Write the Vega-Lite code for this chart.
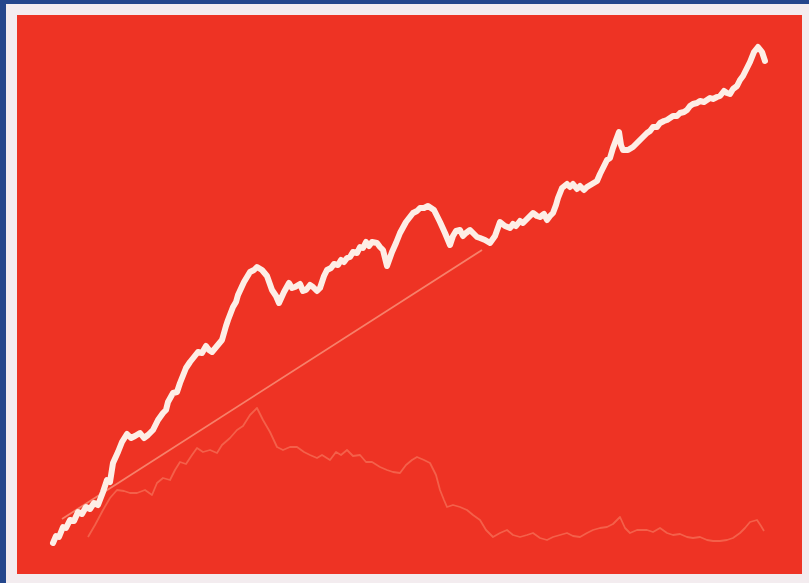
{
  "$schema": "https://vega.github.io/schema/vega-lite/v6.json",
  "width": 796,
  "height": 570,
  "autosize": {"type": "none"},
  "padding": {"left": 11.5, "top": 9.5, "right": 1.5, "bottom": 3.5},
  "background": "#24468c",
  "config": {
    "view": {"fill": "#ee3324", "stroke": "#f3ecef", "strokeWidth": 11}
  },
  "datasets": {
    "main": [
      {"x":53,"y":543},{"x":56,"y":536},{"x":59,"y":537},{"x":63,"y":527},{"x":66,"y":528},{"x":70,"y":520},{"x":74,"y":521},{"x":78,"y":512},{"x":82,"y":514},{"x":86,"y":507},{"x":90,"y":509},{"x":94,"y":503},{"x":98,"y":505},{"x":103,"y":492},{"x":107,"y":480},{"x":110,"y":482},{"x":113,"y":463},{"x":118,"y":452},{"x":122,"y":442},{"x":127,"y":434},{"x":131,"y":438},{"x":135,"y":436},{"x":140,"y":433},{"x":144,"y":438},{"x":148,"y":435},{"x":153,"y":430},{"x":158,"y":420},{"x":163,"y":413},{"x":166,"y":410},{"x":168,"y":402},{"x":173,"y":393},{"x":177,"y":392},{"x":180,"y":383},{"x":186,"y":368},{"x":190,"y":362},{"x":194,"y":357},{"x":198,"y":352},{"x":202,"y":353},{"x":206,"y":346},{"x":209,"y":350},{"x":212,"y":352},{"x":217,"y":346},{"x":222,"y":340},{"x":226,"y":326},{"x":228,"y":320},{"x":233,"y":307},{"x":236,"y":302},{"x":238,"y":295},{"x":244,"y":282},{"x":250,"y":272},{"x":254,"y":270},{"x":257,"y":267},{"x":262,"y":270},{"x":267,"y":276},{"x":272,"y":290},{"x":276,"y":296},{"x":279,"y":303},{"x":284,"y":292},{"x":289,"y":283},{"x":292,"y":288},{"x":295,"y":287},{"x":300,"y":284},{"x":303,"y":291},{"x":306,"y":290},{"x":310,"y":285},{"x":313,"y":287},{"x":317,"y":291},{"x":320,"y":288},{"x":324,"y":276},{"x":327,"y":270},{"x":331,"y":268},{"x":334,"y":264},{"x":338,"y":265},{"x":341,"y":260},{"x":344,"y":262},{"x":347,"y":258},{"x":350,"y":257},{"x":353,"y":252},{"x":357,"y":253},{"x":360,"y":247},{"x":363,"y":248},{"x":366,"y":242},{"x":369,"y":246},{"x":372,"y":242},{"x":377,"y":243},{"x":380,"y":247},{"x":383,"y":250},{"x":387,"y":266},{"x":392,"y":252},{"x":396,"y":243},{"x":400,"y":233},{"x":406,"y":222},{"x":413,"y":213},{"x":417,"y":211},{"x":420,"y":208},{"x":424,"y":208},{"x":428,"y":206},{"x":434,"y":210},{"x":437,"y":216},{"x":440,"y":222},{"x":445,"y":233},{"x":450,"y":245},{"x":453,"y":236},{"x":456,"y":231},{"x":460,"y":230},{"x":463,"y":236},{"x":466,"y":233},{"x":470,"y":230},{"x":473,"y":233},{"x":477,"y":237},{"x":480,"y":238},{"x":485,"y":240},{"x":490,"y":243},{"x":495,"y":236},{"x":500,"y":222},{"x":505,"y":226},{"x":510,"y":228},{"x":513,"y":224},{"x":516,"y":226},{"x":520,"y":221},{"x":523,"y":223},{"x":528,"y":218},{"x":533,"y":213},{"x":537,"y":216},{"x":540,"y":217},{"x":544,"y":214},{"x":547,"y":220},{"x":550,"y":216},{"x":553,"y":213},{"x":556,"y":205},{"x":558,"y":198},{"x":562,"y":188},{"x":567,"y":184},{"x":570,"y":187},{"x":573,"y":184},{"x":577,"y":189},{"x":580,"y":186},{"x":584,"y":190},{"x":587,"y":187},{"x":592,"y":184},{"x":597,"y":181},{"x":600,"y":174},{"x":602,"y":170},{"x":607,"y":160},{"x":610,"y":158},{"x":613,"y":148},{"x":619,"y":132},{"x":621,"y":145},{"x":623,"y":150},{"x":628,"y":150},{"x":633,"y":147},{"x":637,"y":143},{"x":640,"y":140},{"x":644,"y":136},{"x":647,"y":133},{"x":650,"y":131},{"x":653,"y":127},{"x":657,"y":127},{"x":660,"y":123},{"x":664,"y":121},{"x":667,"y":120},{"x":670,"y":118},{"x":673,"y":116},{"x":677,"y":116},{"x":680,"y":113},{"x":684,"y":112},{"x":687,"y":110},{"x":690,"y":106},{"x":693,"y":104},{"x":697,"y":103},{"x":700,"y":101},{"x":704,"y":102},{"x":707,"y":100},{"x":710,"y":98},{"x":713,"y":99},{"x":717,"y":97},{"x":720,"y":96},{"x":724,"y":91},{"x":727,"y":93},{"x":730,"y":94},{"x":733,"y":89},{"x":737,"y":86},{"x":740,"y":80},{"x":743,"y":76},{"x":747,"y":68},{"x":750,"y":62},{"x":754,"y":52},{"x":758,"y":47},{"x":762,"y":52},{"x":765,"y":61}
    ],
    "faint": [
      {"x":88,"y":537},{"x":95,"y":525},{"x":103,"y":510},{"x":110,"y":498},{"x":117,"y":490},{"x":124,"y":491},{"x":130,"y":493},{"x":137,"y":493},{"x":145,"y":490},{"x":152,"y":495},{"x":157,"y":483},{"x":163,"y":478},{"x":170,"y":480},{"x":175,"y":470},{"x":180,"y":462},{"x":186,"y":464},{"x":192,"y":455},{"x":197,"y":448},{"x":203,"y":452},{"x":210,"y":450},{"x":217,"y":453},{"x":222,"y":445},{"x":230,"y":438},{"x":237,"y":430},{"x":243,"y":426},{"x":250,"y":415},{"x":257,"y":408},{"x":263,"y":420},{"x":270,"y":432},{"x":277,"y":447},{"x":283,"y":450},{"x":290,"y":447},{"x":297,"y":447},{"x":304,"y":452},{"x":310,"y":455},{"x":317,"y":458},{"x":322,"y":455},{"x":330,"y":460},{"x":336,"y":452},{"x":341,"y":455},{"x":347,"y":450},{"x":353,"y":456},{"x":360,"y":455},{"x":366,"y":462},{"x":372,"y":462},{"x":380,"y":467},{"x":387,"y":470},{"x":393,"y":472},{"x":400,"y":473},{"x":406,"y":465},{"x":412,"y":460},{"x":417,"y":457},{"x":424,"y":460},{"x":430,"y":463},{"x":436,"y":475},{"x":440,"y":490},{"x":444,"y":500},{"x":447,"y":507},{"x":453,"y":505},{"x":460,"y":507},{"x":467,"y":510},{"x":473,"y":515},{"x":480,"y":520},{"x":486,"y":530},{"x":493,"y":537},{"x":500,"y":533},{"x":507,"y":530},{"x":513,"y":535},{"x":520,"y":537},{"x":527,"y":535},{"x":533,"y":533},{"x":540,"y":538},{"x":547,"y":540},{"x":553,"y":537},{"x":560,"y":535},{"x":567,"y":533},{"x":573,"y":536},{"x":580,"y":537},{"x":587,"y":533},{"x":593,"y":530},{"x":600,"y":528},{"x":607,"y":527},{"x":613,"y":524},{"x":620,"y":517},{"x":625,"y":528},{"x":630,"y":533},{"x":637,"y":530},{"x":647,"y":530},{"x":653,"y":532},{"x":660,"y":528},{"x":667,"y":533},{"x":673,"y":535},{"x":680,"y":534},{"x":687,"y":537},{"x":693,"y":538},{"x":700,"y":537},{"x":707,"y":540},{"x":713,"y":541},{"x":720,"y":541},{"x":727,"y":540},{"x":733,"y":538},{"x":740,"y":533},{"x":745,"y":528},{"x":750,"y":522},{"x":757,"y":520},{"x":761,"y":526},{"x":764,"y":531}
    ],
    "trend": [
      {"x":62,"y":519},{"x":482,"y":250}
    ]
  },
  "encoding": {
    "x": {"field": "x", "type": "quantitative", "axis": null, "scale": {"domain": [11.5, 807.5], "zero": false, "nice": false}},
    "y": {"field": "y", "type": "quantitative", "axis": null, "scale": {"domain": [579.5, 9.5], "zero": false, "nice": false}}
  },
  "layer": [
    {
      "data": {"name": "faint"},
      "mark": {"type": "line", "color": "#f4604a", "strokeWidth": 1.8, "strokeJoin": "round"}
    },
    {
      "data": {"name": "trend"},
      "mark": {"type": "line", "color": "#f7806a", "strokeWidth": 1.8}
    },
    {
      "data": {"name": "main"},
      "mark": {"type": "line", "color": "#fdeee6", "strokeWidth": 6, "strokeJoin": "round", "strokeCap": "round"}
    }
  ]
}
